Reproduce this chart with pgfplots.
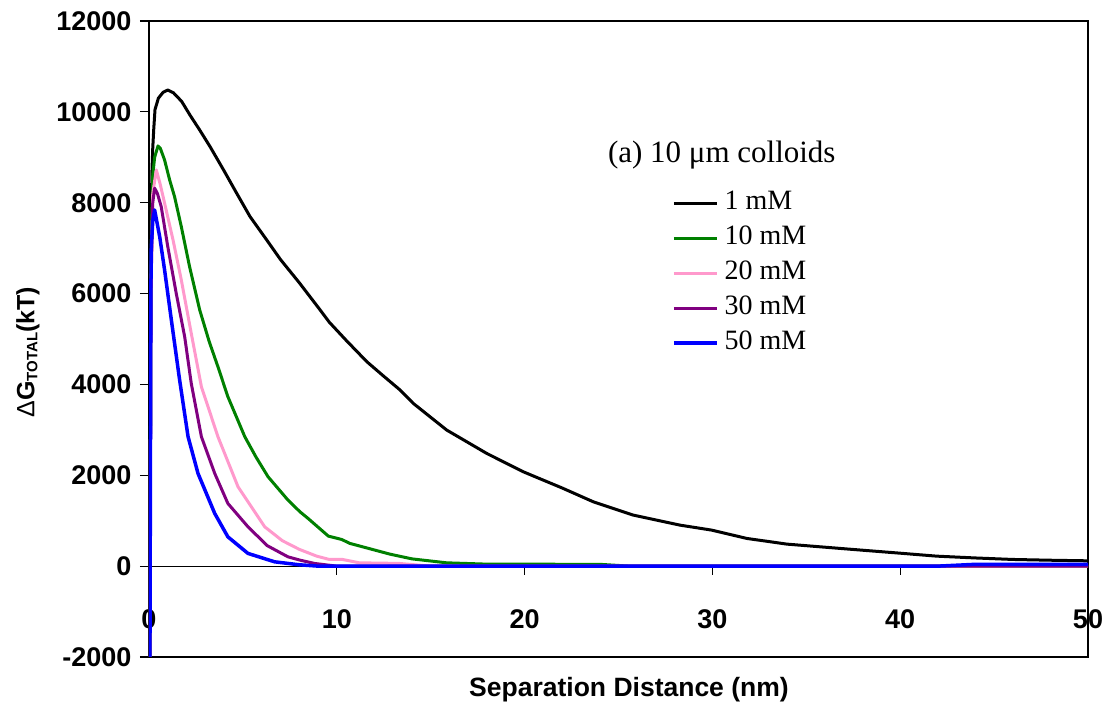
\documentclass[border=0pt]{standalone}
\usepackage{fontspec}
\setmainfont{Liberation Sans}
\newfontfamily\serifx{Liberation Serif}
\usepackage{pgfplots}
\pgfplotsset{compat=1.18}
\definecolor{cgreen}{RGB}{0,128,0}
\definecolor{cpink}{RGB}{255,153,204}
\definecolor{cpurple}{RGB}{128,0,128}
\definecolor{cblue}{RGB}{0,0,255}
\newcommand{\tickfont}{\fontsize{27}{27}\selectfont\bfseries}
\begin{document}
\begin{tikzpicture}
\path[use as bounding box] (-149pt,-54pt) rectangle (959pt,657pt);
\begin{axis}[
  name=main,
  at={(0pt,0pt)}, anchor=south west,
  scale only axis, width=939pt, height=636pt,
  xmin=0, xmax=50, ymin=-2000, ymax=12000,
  clip mode=individual,
  axis line style={line width=1.5pt},
  xtick={0,10,...,50},
  ytick={-2000,0,2000,4000,6000,8000,10000,12000},
  ytick pos=left, xtick pos=bottom,
  tick align=outside,
  x tick style={draw=none},
  y tick style={line width=1.2pt, black},
  major tick length=9pt,
  /pgf/number format/assume math mode=true,
  /pgf/number format/1000 sep={},
  scaled y ticks=false,
  xticklabel={\tickfont\pgfmathprintnumber{\tick}},
  yticklabel={\tickfont\pgfmathprintnumber{\tick}},
  xticklabel style={anchor=center, yshift=47pt},
  yticklabel style={xshift=-5pt},
  legend style={draw=none, fill=none, inner sep=0pt,
    at={(axis cs:27.85,8250)}, anchor=north west,
    font=\serifx\fontsize{28}{28}\selectfont,
    row sep=12pt,
    nodes={inner xsep=6pt, inner ysep=0pt, text height=18pt, text depth=5pt}},
  legend cell align=left,
  legend image code/.code={\draw[#1] (0pt,0pt) -- (43pt,0pt);},
  every axis plot/.append style={line width=3pt, line join=round},
]
\draw[line width=1.2pt] (axis cs:0,0) -- (axis cs:50,0);
\pgfplotsinvokeforeach{10,20,30,40}{\draw[line width=1.2pt] (axis cs:#1,0) -- ++(0pt,-9pt);}

\addplot[black] coordinates {
(0.05,-2000)(0.1,6200)(0.15,8600)(0.2,9200)(0.25,9600)(0.32,10050)(0.5,10300)(0.75,10430)(1.0,10480)(1.3,10420)(1.74,10230)(2.18,9930)(2.7,9600)(3.25,9235)(4.0,8700)(4.67,8207)(5.38,7694)(6.2,7220)(7.0,6750)(8.0,6240)(9.0,5700)(9.6,5370)(10.5,4970)(11.6,4500)(12.5,4180)(13.37,3877)(14.07,3583)(15.85,2996)(17.98,2482)(19.93,2077)(22,1720)(23.66,1416)(25.79,1123)(28.27,903)(29.96,793)(31.83,610)(33.96,485)(35.9,420)(37.95,352)(40,285)(41.94,220)(44,180)(46,147)(48,130)(50,117)
};
\addlegendentry{1 mM}
\addplot[cgreen] coordinates {
(0.05,-2000)(0.1,6500)(0.2,8600)(0.3,9000)(0.48,9250)(0.6,9200)(0.83,8940)(1.1,8500)(1.36,8135)(1.72,7474)(2.16,6593)(2.7,5640)(3.2,4950)(3.67,4390)(4.2,3730)(5.1,2850)(5.7,2400)(6.34,1967)(7.4,1454)(8.04,1196)(8.47,1050)(9.55,661)(10.26,587)(10.7,500)(12.83,264)(14,160)(15.85,73)(17.98,44)(24,40)(25.6,0)(50,0)
};
\addlegendentry{10 mM}
\addplot[cpink] coordinates {
(0.05,-2000)(0.1,6000)(0.2,8200)(0.39,8722)(0.6,8400)(0.83,7990)(1.28,7180)(1.72,6300)(2.25,5125)(2.79,3950)(3.67,2850)(4.74,1747)(6.16,866)(7.1,560)(8.0,370)(8.93,220)(9.6,147)(10.3,147)(11.2,73)(13.3,60)(15,0)(50,0)
};
\addlegendentry{20 mM}
\addplot[cpurple] coordinates {
(0.05,-2000)(0.1,6000)(0.2,8000)(0.3,8320)(0.45,8200)(0.65,7915)(1.0,7033)(1.45,6006)(1.9,5050)(2.25,4024)(2.79,2850)(3.5,2041)(4.2,1380)(5.27,866)(6.3,450)(7.4,205)(8.04,132)(8.82,59)(10,0)(50,0)
};
\addlegendentry{30 mM}
\addplot[cblue, line width=3.5pt] coordinates {
(0.05,-2000)(0.1,6000)(0.12,7000)(0.2,7600)(0.3,7840)(0.57,7250)(0.83,6520)(1.19,5420)(1.63,4100)(2.08,2850)(2.61,2040)(3.5,1160)(4.2,645)(5.27,280)(6.69,95)(8,30)(9,0)(42,0)(44,40)(50,40)
};
\addlegendentry{50 mM}

\node[font=\serifx\fontsize{31}{31}\selectfont] at (axis cs:30.5,9050) {(a) 10 μm colloids};
\end{axis}
\node[font=\fontsize{26.5}{26.5}\selectfont\bfseries] at ([yshift=-33pt]main.south -| 480pt,0) {Separation Distance (nm)};
\node[font=\fontsize{25}{25}\selectfont\bfseries, rotate=90] at (-121pt,305pt)
  {{\mdseries Δ}G\raisebox{-3pt}{\fontsize{15}{15}\selectfont TOTAL}(kT)};
\end{tikzpicture}
\end{document}
